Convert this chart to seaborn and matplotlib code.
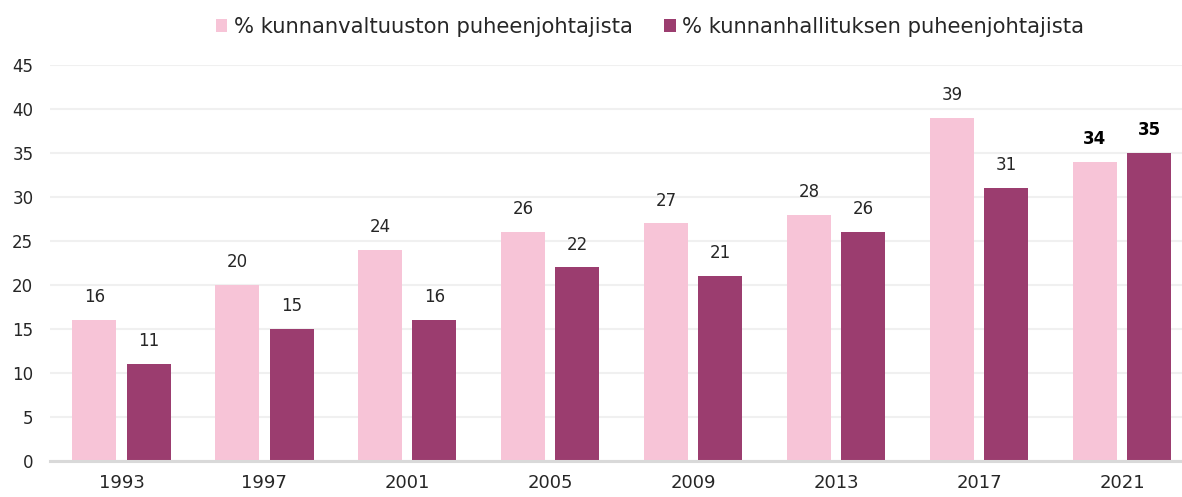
import pandas as pd
import seaborn as sns
import matplotlib
import matplotlib.pyplot as plt
from matplotlib.patches import Patch

matplotlib.use('Agg')

# data
years = ['1993', '1997', '2001', '2005', '2009', '2013', '2017', '2021']
valtuusto = [16, 20, 24, 26, 27, 28, 39, 34]
hallitus = [11, 15, 16, 22, 21, 26, 31, 35]
series_names = ['% kunnanvaltuuston puheenjohtajista', '% kunnanhallituksen puheenjohtajista']
colors = ['#F7C4D7', '#9B3D6F']

df = pd.DataFrame({
    'vuosi': years * 2,
    'arvo': valtuusto + hallitus,
    'sarja': [series_names[0]] * len(years) + [series_names[1]] * len(years),
})

sns.set_style('white')
plt.rcParams['font.family'] = ['DejaVu Sans']
text_color = '#262626'

fig = plt.figure(figsize=(11.82, 4.97), dpi=100)
ax = fig.add_axes([50 / 1182, 36 / 497, 1132 / 1182, 396 / 497])

sns.barplot(data=df, x='vuosi', y='arvo', hue='sarja', palette=colors,
            width=0.76, gap=0.19, linewidth=0, ax=ax, legend=False, saturation=1)

ax.set_xlim(-0.5, 7.42)
ax.set_ylim(0, 45)
ax.set_yticks(range(0, 46, 5))
ax.yaxis.grid(True, color='#f0f0f0', linewidth=1.5)
ax.set_axisbelow(True)
for s in ['top', 'right', 'left']:
    ax.spines[s].set_visible(False)
ax.spines['bottom'].set_color('#d9d9d9')
ax.spines['bottom'].set_linewidth(2.2)
ax.set_xlabel('')
ax.set_ylabel('')
ax.tick_params(axis='x', length=0, labelsize=13, pad=9, colors=text_color)
ax.tick_params(axis='y', length=0, labelsize=12, pad=12, colors=text_color)

# value labels above bars, last year in bold
for cont in ax.containers:
    for i, bar in enumerate(cont):
        h = bar.get_height()
        bold = i == len(years) - 1
        ax.annotate(f'{h:.0f}', (bar.get_x() + bar.get_width() / 2, h),
                    xytext=(0, 10), textcoords='offset points',
                    ha='center', va='bottom', fontsize=12, color='black' if bold else text_color,
                    fontweight='bold' if bold else 'normal')

handles = [Patch(facecolor=c, edgecolor='none') for c in colors]
fig.legend(handles, series_names, loc='center', bbox_to_anchor=(650 / 1182, 1 - 27 / 497),
           ncol=2, frameon=False, fontsize=15.2, handlelength=0.55, handleheight=0.55,
           handletextpad=0.3, columnspacing=1.5, labelcolor=text_color)

fig.savefig('out.png', dpi=100)
